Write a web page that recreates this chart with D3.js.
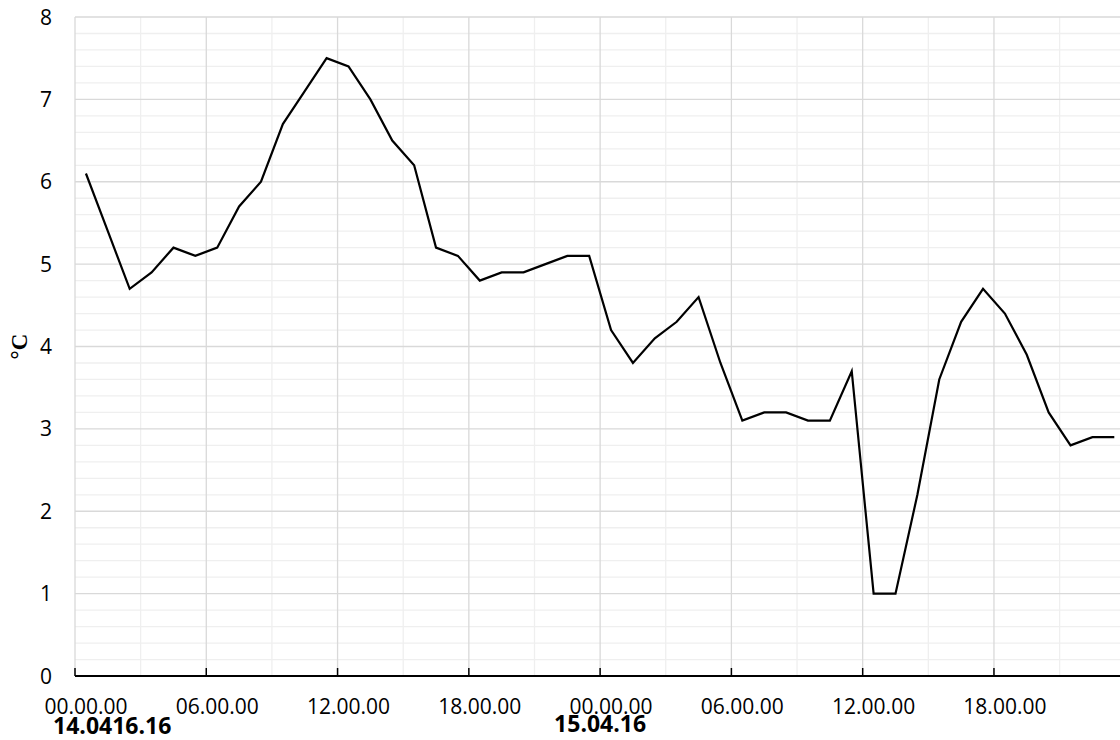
<!DOCTYPE html>
<html>
<head>
<meta charset="utf-8">
<script src="https://cdn.jsdelivr.net/npm/d3@7"></script>
<style>
  html, body { margin: 0; padding: 0; background: #ffffff; overflow: hidden; }
  svg { display: block; }
  text { font-family: "Open Sans", "Noto Sans", sans-serif; fill: #000; }
</style>
</head>
<body>
<svg id="chart" width="1120" height="740"></svg>
<script>
// Hours since 14.04.16 00:00 (each reading taken mid-hour)
const hours = [0.5, 1.5, 2.5, 3.5, 4.5, 5.5, 6.5, 7.5, 8.5, 9.5, 10.5, 11.5,
  12.5, 13.5, 14.5, 15.5, 16.5, 17.5, 18.5, 19.5, 20.5, 21.5, 22.5, 23.5,
  24.5, 25.5, 26.5, 27.5, 28.5, 29.5, 30.5, 31.5, 32.5, 33.5, 34.5, 35.5,
  36.5, 37.5, 38.5, 39.5, 40.5, 41.5, 42.5, 43.5, 44.5, 45.5, 46.5, 47.5];
// Temperature, °C
const temps = [6.1, 5.4, 4.7, 4.9, 5.2, 5.1, 5.2, 5.7, 6.0, 6.7, 7.1, 7.5,
  7.4, 7.0, 6.5, 6.2, 5.2, 5.1, 4.8, 4.9, 4.9, 5.0, 5.1, 5.1,
  4.2, 3.8, 4.1, 4.3, 4.6, 3.8, 3.1, 3.2, 3.2, 3.1, 3.1, 3.7,
  1.0, 1.0, 2.2, 3.6, 4.3, 4.7, 4.4, 3.9, 3.2, 2.8, 2.9, 2.9];
// Axis ticks
const xTickHours = [0, 6, 12, 18, 24, 30, 36, 42];
const xTickLabels = ["00.00.00", "06.00.00", "12.00.00", "18.00.00",
                     "00.00.00", "06.00.00", "12.00.00", "18.00.00"];
const xMinorHours = [3, 9, 15, 21, 27, 33, 39, 45];
const yTicks = [0, 1, 2, 3, 4, 5, 6, 7, 8];
const dateLabels = ["14.0416.16", "15.04.16"];
const dateLabelHours = [1.7, 24];
const yAxisTitle = "°C";

(function () {
const svg = d3.select("#chart");
const pLeft = 75, pRight = 75 + 48 * 21.88, pTop = 17, pBottom = 676;

const x = d3.scaleLinear().domain([0, 48]).range([pLeft, pRight]);
const y = d3.scaleLinear().domain([0, 8]).range([pBottom, pTop]);

// minor horizontal gridlines every 0.2
const yMinor = d3.range(0, 8.001, 0.2).filter(v => Math.abs(v - Math.round(v)) > 1e-6);
const g = svg.append("g");
g.selectAll(".hminor").data(yMinor).join("line")
  .attr("x1", pLeft).attr("x2", pRight)
  .attr("y1", d => y(d)).attr("y2", d => y(d))
  .attr("stroke", "#efefef").attr("stroke-width", 1.3);
// minor vertical gridlines
g.selectAll(".vminor").data(xMinorHours).join("line")
  .attr("x1", d => x(d)).attr("x2", d => x(d))
  .attr("y1", pTop).attr("y2", pBottom)
  .attr("stroke", "#efefef").attr("stroke-width", 1.3);
// major horizontal gridlines
g.selectAll(".hmajor").data(yTicks.slice(1)).join("line")
  .attr("x1", pLeft).attr("x2", pRight)
  .attr("y1", d => y(d)).attr("y2", d => y(d))
  .attr("stroke", "#d9d9d9").attr("stroke-width", 1.3);
// major vertical gridlines
g.selectAll(".vmajor").data(xTickHours).join("line")
  .attr("x1", d => x(d)).attr("x2", d => x(d))
  .attr("y1", pTop).attr("y2", pBottom)
  .attr("stroke", "#d9d9d9").attr("stroke-width", 1.3);

// data line
const line = d3.line().x((d, i) => x(hours[i])).y(d => y(d));
svg.append("path").datum(temps)
  .attr("d", line)
  .attr("fill", "none").attr("stroke", "#000").attr("stroke-width", 2.2)
  .attr("stroke-linejoin", "miter");

// x axis line and ticks
svg.append("line").attr("x1", pLeft).attr("x2", pRight)
  .attr("y1", pBottom).attr("y2", pBottom)
  .attr("stroke", "#000").attr("stroke-width", 2);
svg.selectAll(".xtick").data(xTickHours).join("line")
  .attr("x1", d => x(d)).attr("x2", d => x(d))
  .attr("y1", pBottom).attr("y2", pBottom - 8)
  .attr("stroke", "#000").attr("stroke-width", 1.5);

// x tick labels (centered on the first hour of each block)
svg.selectAll(".xlab").data(xTickHours).join("text")
  .attr("x", d => x(d + 0.5)).attr("y", 714)
  .attr("text-anchor", "middle").attr("font-size", 21)
  .text((d, i) => xTickLabels[i]);

// date labels
svg.selectAll(".dlab").data(dateLabels).join("text")
  .attr("x", (d, i) => x(dateLabelHours[i])).attr("y", (d, i) => i === 0 ? 734 : 731.5)
  .attr("text-anchor", "middle").attr("font-size", 23).attr("font-weight", "bold")
  .text(d => d);

// y tick labels
svg.selectAll(".ylab").data(yTicks).join("text")
  .attr("x", 52).attr("y", d => y(d)).attr("dy", "0.36em")
  .attr("text-anchor", "end").attr("font-size", 21)
  .text(d => d);

// y axis title
svg.append("text")
  .attr("transform", `translate(27, ${(pTop + pBottom) / 2}) rotate(-90)`)
  .attr("text-anchor", "middle")
  .style("font-family", "'Liberation Serif', 'DejaVu Serif', serif")
  .attr("font-size", 23).attr("font-weight", "bold")
  .text(yAxisTitle);
})();
</script>
</body>
</html>
